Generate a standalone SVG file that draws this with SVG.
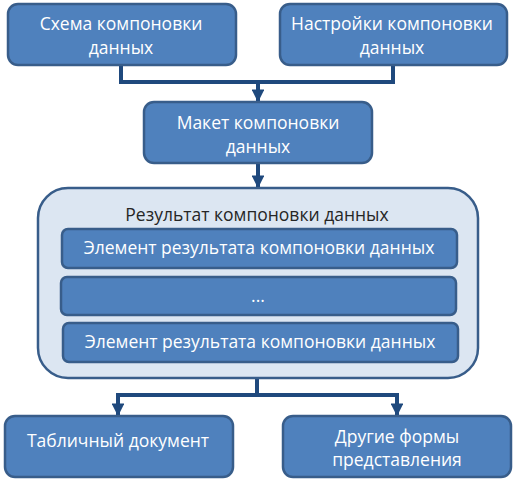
<svg xmlns="http://www.w3.org/2000/svg" width="515" height="487" viewBox="0 0 515 487">
<style>
.n{fill:#4F81BD;stroke:#385D8A;stroke-width:2.5}
.c{fill:#DCE6F2;stroke:#385D8A;stroke-width:2.5}
.t{font-family:"Open Sans","Noto Sans",sans-serif;font-size:17.5px;fill:#FFFFFF;text-anchor:middle}
.d{fill:#262626}
.e{fill:none;stroke:#1F497D;stroke-width:4}
</style>
<defs>
<marker id="a" viewBox="0 0 10 10" refX="9" refY="5" markerWidth="3.2" markerHeight="3.2" orient="auto" markerUnits="strokeWidth">
<path d="M0,0 L10,5 L0,10 z" fill="#1F497D"/>
</marker>
</defs>
<g id="connectors">
<path class="e" d="M121,65 V82 H258 V101" marker-end="url(#a)"/>
<path class="e" d="M393,65 V82 H258"/>
<path class="e" d="M258,163 V187" marker-end="url(#a)"/>
<path class="e" d="M257,378 V395 H118 V415" marker-end="url(#a)"/>
<path class="e" d="M257,395 H397 V415" marker-end="url(#a)"/>
</g>
<g id="schema">
<rect class="n" x="8" y="4" width="228" height="61" rx="10"/>
<text class="t" x="121" y="30">Схема компоновки</text>
<text class="t" x="121" y="54">данных</text>
</g>
<g id="settings">
<rect class="n" x="280" y="4" width="227" height="61" rx="10"/>
<text class="t" x="392" y="30">Настройки компоновки</text>
<text class="t" x="392" y="54">данных</text>
</g>
<g id="template">
<rect class="n" x="144" y="102" width="228" height="61" rx="10"/>
<text class="t" x="258" y="129">Макет компоновки</text>
<text class="t" x="258" y="153">данных</text>
</g>
<g id="result">
<rect class="c" x="38" y="188" width="440" height="190" rx="30"/>
<text class="t d" x="257" y="221">Результат компоновки данных</text>
</g>
<g id="element1">
<rect class="n" x="62" y="229" width="395" height="39" rx="6"/>
<text class="t" x="259" y="254">Элемент результата компоновки данных</text>
</g>
<g id="element2">
<rect class="n" x="61" y="277" width="395" height="38" rx="6"/>
<text class="t" x="258" y="302">...</text>
</g>
<g id="element3">
<rect class="n" x="63" y="323" width="395" height="39" rx="6"/>
<text class="t" x="260" y="348">Элемент результата компоновки данных</text>
</g>
<g id="table">
<rect class="n" x="5" y="416" width="228" height="61" rx="10"/>
<text class="t" x="118" y="447">Табличный документ</text>
</g>
<g id="other">
<rect class="n" x="283" y="416" width="228" height="61" rx="10"/>
<text class="t" x="397" y="443">Другие формы</text>
<text class="t" x="397" y="466">представления</text>
</g>
</svg>
